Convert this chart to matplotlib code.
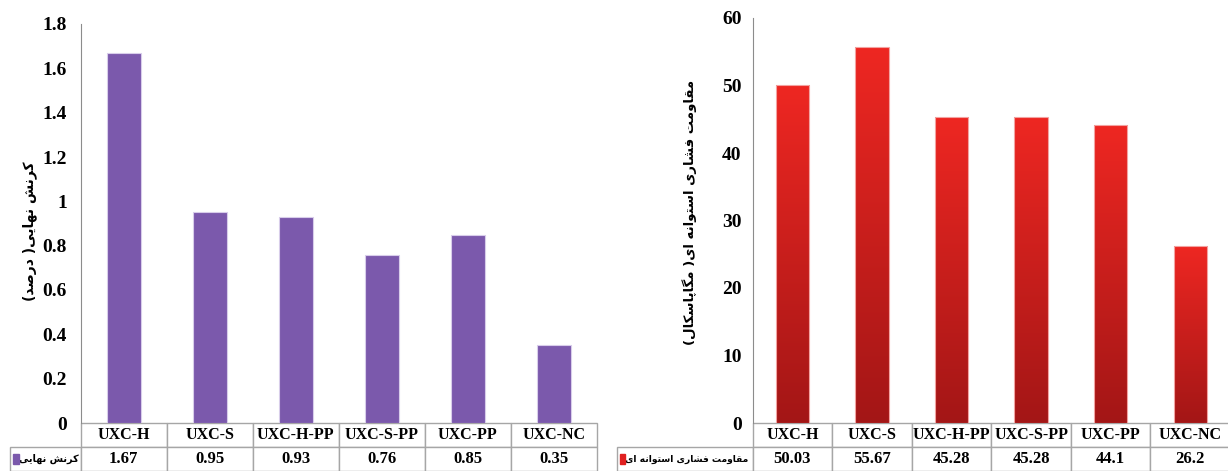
import numpy as np
import matplotlib
matplotlib.use("Agg")
import matplotlib.pyplot as plt
from matplotlib.colors import LinearSegmentedColormap
from matplotlib.patches import Rectangle
from matplotlib.table import Table

# sample names shared by both charts
categories = ["UXC-H", "UXC-S", "UXC-H-PP", "UXC-S-PP", "UXC-PP", "UXC-NC"]

# ultimate strain (%)
strain = [1.67, 0.95, 0.93, 0.76, 0.85, 0.35]
strain_label = "کرنش نهایی"
strain_ylabel = "کرنش نهایی( درصد)"
strain_ticks = [0, 0.2, 0.4, 0.6, 0.8, 1, 1.2, 1.4, 1.6, 1.8]

# cylinder compressive strength (MPa)
strength = [50.03, 55.67, 45.28, 45.28, 44.1, 26.2]
strength_label = "مقاومت فشاری استوانه ای"
strength_ylabel = "مقاومت فشاری استوانه ای( مگاپاسکال)"
strength_ticks = [0, 10, 20, 30, 40, 50, 60]

PURPLE = "#7B59AC"
RED_TOP = "#EE2722"
RED_BOTTOM = "#A31616"
GRID = "#A6A6A6"

# isolated, final, initial, medial presentation forms
FORMS = {
    "ا": ("\uFE8D", "\uFE8E", None, None),
    "د": ("\uFEA9", "\uFEAA", None, None),
    "ر": ("\uFEAD", "\uFEAE", None, None),
    "و": ("\uFEED", "\uFEEE", None, None),
    "ت": ("\uFE95", "\uFE96", "\uFE97", "\uFE98"),
    "ن": ("\uFEE5", "\uFEE6", "\uFEE7", "\uFEE8"),
    "ش": ("\uFEB5", "\uFEB6", "\uFEB7", "\uFEB8"),
    "س": ("\uFEB1", "\uFEB2", "\uFEB3", "\uFEB4"),
    "ص": ("\uFEB9", "\uFEBA", "\uFEBB", "\uFEBC"),
    "ف": ("\uFED1", "\uFED2", "\uFED3", "\uFED4"),
    "ق": ("\uFED5", "\uFED6", "\uFED7", "\uFED8"),
    "ل": ("\uFEDD", "\uFEDE", "\uFEDF", "\uFEE0"),
    "م": ("\uFEE1", "\uFEE2", "\uFEE3", "\uFEE4"),
    "ه": ("\uFEE9", "\uFEEA", "\uFEEB", "\uFEEC"),
    "ک": ("\uFB8E", "\uFB8F", "\uFB90", "\uFB91"),
    "گ": ("\uFB92", "\uFB93", "\uFB94", "\uFB95"),
    "پ": ("\uFB56", "\uFB57", "\uFB58", "\uFB59"),
    "ی": ("\uFBFC", "\uFBFD", "\uFBFE", "\uFBFF"),
}


def persian(s):
    # join letters and put them in visual (left-to-right) order
    out = []
    for i, ch in enumerate(s):
        if ch not in FORMS:
            out.append(ch)
            continue
        prev = s[i - 1] if i > 0 else ""
        nxt = s[i + 1] if i + 1 < len(s) else ""
        jp = prev in FORMS and FORMS[prev][2] is not None
        jn = FORMS[ch][2] is not None and nxt in FORMS
        iso, fin, ini, med = FORMS[ch]
        if jp and jn:
            out.append(med)
        elif jp:
            out.append(fin)
        elif jn:
            out.append(ini)
        else:
            out.append(iso)
    mirror = {"(": ")", ")": "("}
    return "".join(mirror.get(c, c) for c in reversed(out))


SERIF = {"family": "Liberation Serif", "weight": "bold"}
FA = {"family": "DejaVu Sans", "weight": "bold"}


def add_data_table(ax, values, label, color, label_w, data_w, row_h, label_size):
    # two-row table under the axis: category names, then the series values
    n = len(values)
    total_w = label_w + n * data_w
    tab = Table(ax, bbox=[-label_w / data_w / n, -2 * row_h, total_w / (n * data_w), 2 * row_h])
    tab.auto_set_font_size(False)
    c = tab.add_cell(0, 0, width=label_w, height=1, text="")
    c.visible_edges = ""
    for j, cat in enumerate(categories):
        c = tab.add_cell(0, j + 1, width=data_w, height=1, text=cat, loc="center")
        c.get_text().set_fontproperties(SERIF)
        c.get_text().set_fontsize(11.5)
    c = tab.add_cell(1, 0, width=label_w, height=1, text=persian(label), loc="right")
    c.get_text().set_fontproperties(FA)
    c.get_text().set_fontsize(label_size)
    c.PAD = 0.03
    for j, v in enumerate(values):
        c = tab.add_cell(1, j + 1, width=data_w, height=1, text=f"{v:g}", loc="center")
        c.get_text().set_fontproperties(SERIF)
        c.get_text().set_fontsize(12)
    for cell in tab.get_celld().values():
        cell.set_edgecolor(GRID)
        cell.set_linewidth(1)
        cell.set_facecolor("white")
    ax.add_table(tab)
    # legend key inside the label cell
    key_x = -label_w / (n * data_w) + 0.006
    ax.add_patch(Rectangle((key_x, -2 * row_h + row_h * 0.3), 0.011, row_h * 0.4,
                           transform=ax.transAxes, color=color, clip_on=False, zorder=5))


def style_axis(ax, ticks, top):
    ax.set_xlim(-0.5, len(categories) - 0.5)
    ax.set_ylim(0, top)
    ax.set_yticks(ticks)
    ax.set_yticklabels([f"{t:g}" for t in ticks], fontdict=SERIF, fontsize=14)
    ax.set_xticks([])
    for s in ("top", "right", "bottom"):
        ax.spines[s].set_visible(False)
    ax.spines["left"].set_color("#8C8C8C")
    ax.tick_params(axis="y", length=0)


W, H = 1228, 471
fig = plt.figure(figsize=(W / 100, H / 100), dpi=100)

# left: ultimate strain
ax1 = fig.add_axes([80.7 / W, 48 / H, 516.3 / W, 399 / H])
x = np.arange(len(categories))
ax1.bar(x, strain, width=0.39, color=PURPLE, edgecolor="#D8CDEA", linewidth=0.8, zorder=2)
style_axis(ax1, strain_ticks, 1.8)
ax1.tick_params(axis="y", pad=10)
ax1.set_ylabel(persian(strain_ylabel), fontdict=FA, fontsize=10)
ax1.yaxis.set_label_coords(-0.085, 0.48)
add_data_table(ax1, strain, strain_label, PURPLE, 70.7, 86.05, 24 / 399, 7)

# right: cylinder compressive strength, bars shaded dark at the base
ax2 = fig.add_axes([752.7 / W, 48 / H, 477.3 / W, 405 / H])
bars = ax2.bar(x, strength, width=0.42, facecolor="none", edgecolor="#F3A3A1",
               linewidth=0.8, zorder=3)
cmap = LinearSegmentedColormap.from_list("redfade", [RED_BOTTOM, RED_TOP])
grad = np.linspace(0, 1, 256).reshape(-1, 1)
for b in bars:
    x0, w, h = b.get_x(), b.get_width(), b.get_height()
    im = ax2.imshow(grad, extent=[x0, x0 + w, 0, h], origin="lower", aspect="auto",
                    cmap=cmap, zorder=2)
    im.set_clip_path(b)
style_axis(ax2, strength_ticks, 60)
ax2.tick_params(axis="y", pad=8)
ax2.set_ylabel(persian(strength_ylabel), fontdict=FA, fontsize=9.5)
ax2.yaxis.set_label_coords(-0.117, 0.52)
add_data_table(ax2, strength, strength_label, "#E02020", 135.7, 79.55, 24 / 405, 6.6)

fig.savefig("out.png", dpi=100)
